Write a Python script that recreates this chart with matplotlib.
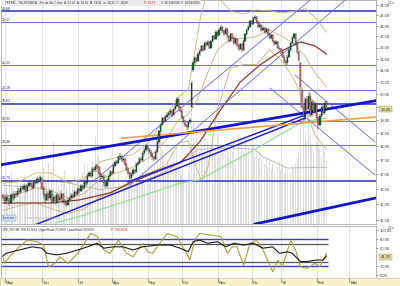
import numpy as np
import matplotlib
matplotlib.use("Agg")
import matplotlib.pyplot as plt
from matplotlib.ticker import NullLocator
from matplotlib.patches import Rectangle
from matplotlib.transforms import blended_transform_factory

plt.rcParams['font.family'] = ['Liberation Sans', 'DejaVu Sans']

# daily candles, TEF.MC  May 2005 - Feb 2006
opens = [16.30, 16.20, 16.10, 16.25, 16.15, 16.05, 16.30, 16.20, 16.35, 16.30,
         16.45, 16.40, 16.55, 16.50, 16.60, 16.45, 16.60, 16.70, 16.65, 16.55,
         16.75, 16.70, 16.85, 16.80, 16.85, 16.55, 16.30, 16.15, 16.35, 16.20,
         16.45, 16.10, 16.25, 16.05, 16.30, 16.15, 16.20, 16.35, 16.10, 16.05,
         15.98, 16.15, 16.20, 16.30, 16.25, 16.40, 16.35, 16.50, 16.45, 16.60,
         16.55, 16.75, 16.70, 16.95, 17.05, 16.95, 17.20, 17.15, 17.30, 17.25,
         17.05, 16.90, 16.95, 16.70, 16.60, 16.80, 16.95, 17.10, 17.05, 17.30,
         17.45, 17.40, 17.60, 17.65, 17.50, 17.55, 17.35, 17.20, 17.05, 16.88,
         17.00, 17.15, 17.10, 17.35, 17.40, 17.55, 17.50, 17.75, 17.85, 18.00,
         17.90, 17.80, 17.70, 17.60, 17.55, 17.80, 18.15, 18.55, 18.80, 19.05,
         18.95, 19.10, 19.20, 19.25, 19.35, 19.20, 19.40, 19.55, 19.80, 19.50,
         19.35, 19.10, 18.95, 18.80, 18.70, 18.90, 19.50, 21.00, 21.30, 21.55,
         21.40, 21.70, 21.85, 22.05, 21.90, 22.20, 22.10, 22.25, 22.00, 22.30,
         22.50, 22.40, 22.70, 22.55, 22.80, 22.95, 22.75, 22.60, 22.85, 22.50,
         22.30, 22.60, 22.45, 22.20, 22.40, 22.10, 21.95, 22.15, 21.90, 22.30,
         22.60, 22.80, 22.95, 23.20, 23.10, 23.35, 23.40, 23.15, 22.95, 23.05,
         22.80, 22.90, 22.70, 22.85, 22.60, 22.45, 22.55, 22.30, 22.15, 22.25,
         22.00, 21.95, 21.80, 21.60, 21.40, 21.30, 21.60, 21.90, 22.20, 22.45,
         22.60, 22.20, 21.80, 21.30, 20.20, 19.50, 19.10, 19.80, 19.40, 19.95,
         19.20, 19.70, 19.30, 19.60, 19.05, 18.80, 19.15, 19.50, 19.25, 19.65]
highs = [16.35, 16.28, 16.32, 16.30, 16.22, 16.38, 16.36, 16.42, 16.44, 16.52,
         16.53, 16.62, 16.64, 16.68, 16.66, 16.65, 16.78, 16.76, 16.70, 16.82,
         16.80, 16.92, 16.90, 16.98, 16.92, 16.60, 16.38, 16.42, 16.40, 16.50,
         16.48, 16.32, 16.30, 16.36, 16.34, 16.28, 16.42, 16.38, 16.16, 16.10,
         16.22, 16.28, 16.36, 16.35, 16.46, 16.45, 16.56, 16.55, 16.66, 16.64,
         16.82, 16.80, 17.00, 17.12, 17.10, 17.26, 17.25, 17.38, 17.35, 17.30,
         17.10, 17.02, 17.00, 16.75, 16.86, 17.02, 17.16, 17.15, 17.36, 17.52,
         17.50, 17.66, 17.74, 17.70, 17.62, 17.60, 17.40, 17.25, 17.10, 17.08,
         17.22, 17.20, 17.42, 17.48, 17.62, 17.60, 17.82, 17.92, 18.08, 18.05,
         17.95, 17.85, 17.75, 17.66, 17.86, 18.22, 18.62, 18.88, 19.12, 19.10,
         19.18, 19.28, 19.34, 19.42, 19.40, 19.48, 19.62, 19.88, 19.85, 19.55,
         19.40, 19.15, 19.00, 18.85, 18.96, 19.08, 20.55, 21.40, 21.62, 21.60,
         21.78, 21.92, 22.12, 22.10, 22.28, 22.26, 22.32, 22.30, 22.36, 22.58,
         22.56, 22.78, 22.75, 22.88, 23.05, 23.00, 22.80, 22.92, 22.90, 22.55,
         22.66, 22.65, 22.50, 22.46, 22.45, 22.15, 22.22, 22.20, 22.36, 22.66,
         22.88, 23.02, 23.28, 23.26, 23.42, 23.50, 23.45, 23.20, 23.12, 23.10,
         22.98, 22.95, 22.92, 22.90, 22.66, 22.62, 22.60, 22.36, 22.32, 22.30,
         22.08, 22.00, 21.85, 21.65, 21.46, 21.66, 21.96, 22.26, 22.52, 22.68,
         22.65, 22.25, 21.85, 21.35, 20.30, 19.60, 19.90, 19.95, 20.10, 20.05,
         19.82, 19.78, 19.72, 19.66, 19.12, 19.22, 19.60, 19.58, 19.75, 19.72]
lows = [16.10, 16.02, 16.05, 16.08, 15.95, 16.00, 16.12, 16.15, 16.22, 16.25,
        16.33, 16.35, 16.42, 16.44, 16.38, 16.40, 16.55, 16.58, 16.48, 16.50,
        16.62, 16.66, 16.72, 16.75, 16.48, 16.22, 16.05, 16.10, 16.12, 16.15,
        16.02, 16.04, 15.98, 16.00, 16.08, 16.10, 16.15, 16.02, 15.96, 15.90,
        15.94, 16.10, 16.15, 16.18, 16.20, 16.28, 16.30, 16.38, 16.40, 16.48,
        16.50, 16.62, 16.65, 16.90, 16.88, 16.90, 17.08, 17.10, 17.18, 16.98,
        16.82, 16.85, 16.62, 16.52, 16.55, 16.75, 16.90, 16.98, 17.00, 17.25,
        17.33, 17.35, 17.55, 17.42, 17.45, 17.28, 17.12, 16.98, 16.80, 16.84,
        16.95, 17.02, 17.05, 17.28, 17.35, 17.42, 17.45, 17.70, 17.80, 17.82,
        17.72, 17.62, 17.52, 17.48, 17.50, 17.75, 18.10, 18.50, 18.75, 18.88,
        18.90, 19.05, 19.12, 19.20, 19.12, 19.15, 19.35, 19.50, 19.42, 19.28,
        19.02, 18.88, 18.72, 18.62, 18.65, 18.85, 19.45, 20.95, 21.22, 21.32,
        21.35, 21.62, 21.80, 21.82, 21.85, 22.02, 22.05, 21.92, 21.95, 22.25,
        22.32, 22.35, 22.48, 22.50, 22.75, 22.68, 22.52, 22.55, 22.42, 22.22,
        22.25, 22.38, 22.12, 22.15, 22.02, 21.86, 21.90, 21.82, 21.85, 22.25,
        22.55, 22.75, 22.90, 23.02, 23.05, 23.28, 23.08, 22.88, 22.90, 22.72,
        22.75, 22.62, 22.65, 22.52, 22.38, 22.40, 22.22, 22.08, 22.10, 21.92,
        21.88, 21.72, 21.52, 21.32, 21.22, 21.25, 21.55, 21.85, 22.15, 22.40,
        22.12, 21.72, 21.38, 20.20, 19.40, 18.95, 19.00, 19.30, 19.35, 19.10,
        19.12, 19.20, 19.22, 18.95, 18.65, 18.75, 19.10, 19.18, 19.20, 19.32]
closes = [16.20, 16.10, 16.25, 16.15, 16.05, 16.30, 16.20, 16.35, 16.30, 16.45,
          16.40, 16.55, 16.50, 16.60, 16.45, 16.60, 16.70, 16.65, 16.55, 16.75,
          16.70, 16.85, 16.80, 16.90, 16.55, 16.30, 16.15, 16.35, 16.20, 16.45,
          16.10, 16.25, 16.05, 16.30, 16.15, 16.20, 16.35, 16.10, 16.05, 15.98,
          16.15, 16.20, 16.30, 16.25, 16.40, 16.35, 16.50, 16.45, 16.60, 16.55,
          16.75, 16.70, 16.95, 17.05, 16.95, 17.20, 17.15, 17.30, 17.25, 17.05,
          16.90, 16.95, 16.70, 16.60, 16.80, 16.95, 17.10, 17.05, 17.30, 17.45,
          17.40, 17.60, 17.65, 17.50, 17.55, 17.35, 17.20, 17.05, 16.88, 17.00,
          17.15, 17.10, 17.35, 17.40, 17.55, 17.50, 17.75, 17.85, 18.00, 17.90,
          17.80, 17.70, 17.60, 17.55, 17.80, 18.15, 18.55, 18.80, 19.05, 18.95,
          19.10, 19.20, 19.25, 19.35, 19.20, 19.40, 19.55, 19.80, 19.50, 19.35,
          19.10, 18.95, 18.80, 18.70, 18.90, 19.00, 20.45, 21.30, 21.55, 21.40,
          21.70, 21.85, 22.05, 21.90, 22.20, 22.10, 22.25, 22.00, 22.30, 22.50,
          22.40, 22.70, 22.55, 22.80, 22.95, 22.75, 22.60, 22.85, 22.50, 22.30,
          22.60, 22.45, 22.20, 22.40, 22.10, 21.95, 22.15, 21.90, 22.30, 22.60,
          22.80, 22.95, 23.20, 23.10, 23.35, 23.40, 23.15, 22.95, 23.05, 22.80,
          22.90, 22.70, 22.85, 22.60, 22.45, 22.55, 22.30, 22.15, 22.25, 22.00,
          21.95, 21.80, 21.60, 21.40, 21.30, 21.60, 21.90, 22.20, 22.45, 22.60,
          22.20, 21.80, 21.45, 20.30, 19.50, 19.10, 19.80, 19.40, 19.95, 19.20,
          19.70, 19.30, 19.60, 19.05, 18.80, 19.15, 19.50, 19.25, 19.65, 19.40]
# volume in millions of shares
volumes = [22, 30, 25, 18, 28, 35, 24, 20, 26, 31, 22, 27, 19, 33, 24, 28, 21, 30, 25, 23,
           27, 32, 24, 29, 45, 38, 30, 26, 41, 22, 34, 55, 70, 30, 26, 23, 31, 28, 36, 25,
           24, 29, 21, 27, 33, 22, 30, 26, 28, 35, 40, 32, 38, 30, 28, 42, 36, 58, 80, 45,
           38, 30, 27, 33, 25, 29, 36, 24, 31, 28, 22, 34, 30, 26, 29, 24, 32, 27, 35, 30,
           28, 25, 31, 27, 33, 29, 35, 26, 38, 30, 27, 33, 29, 40, 36, 48, 55, 62, 50, 44,
           38, 42, 35, 40, 33, 45, 38, 52, 40, 36, 33, 30, 38, 29, 35, 42, 78, 68, 55, 60,
           52, 48, 58, 50, 62, 45, 55, 48, 52, 60, 46, 50, 58, 44, 52, 49, 55, 47, 53, 45,
           50, 48, 56, 44, 52, 60, 47, 55, 49, 58, 46, 51, 57, 48, 53, 45, 50, 44, 48, 42,
           46, 40, 44, 38, 42, 36, 40, 35, 45, 38, 42, 36, 40, 34, 38, 36, 41, 35, 39, 37,
           40, 44, 48, 90, 85, 70, 62, 55, 75, 60, 52, 48, 65, 55, 58, 50, 45, 52, 48, 42]

# volume moving average
vma_day = [0, 12, 24, 40, 60, 80, 100, 120, 140, 155, 160, 175, 199]
vma_val = [26, 25, 29.5, 27.5, 23, 26, 35, 50, 51, 50, 45, 37.5, 38]

# moving averages (brown = 50 sessions, green = 200 sessions)
ma50_day = [0, 29, 47, 66, 78, 90, 109, 121, 133, 146, 158, 170, 183, 192, 199]
ma50_val = [16.04, 16.04, 16.14, 16.37, 16.70, 16.98, 17.40, 18.16, 19.30, 20.51,
            21.23, 21.80, 22.25, 22.07, 21.71]
ma200_day = [32, 46, 78, 109, 121, 152, 184, 199]
ma200_val = [15.40, 15.59, 16.14, 16.70, 16.81, 17.79, 18.91, 19.06]

# bollinger bands
bb_day = [0, 10, 20, 30, 40, 50, 60, 70, 80, 90, 100, 108, 114, 118, 122, 126,
          132, 140, 148, 156, 164, 172, 180, 186, 192, 199]
bb_up = [16.70, 16.75, 17.05, 17.05, 16.70, 16.85, 17.45, 17.60, 17.70, 18.15, 19.10,
         19.90, 20.20, 21.80, 23.60, 24.60, 24.40, 23.70, 23.55, 23.75, 23.70, 23.60,
         23.70, 23.80, 23.40, 22.70]
bb_mid = [16.25, 16.35, 16.55, 16.45, 16.20, 16.35, 16.85, 17.05, 17.25, 17.60, 18.20,
          19.00, 19.20, 19.60, 20.20, 20.90, 21.90, 22.40, 22.40, 22.50, 22.80, 22.50,
          22.10, 21.60, 20.90, 20.30]
bb_low = [15.80, 15.95, 16.05, 15.85, 15.70, 15.85, 16.25, 16.50, 16.80, 17.05, 17.30,
          18.10, 18.20, 17.40, 16.80, 17.20, 19.40, 21.10, 21.25, 21.25, 21.90, 21.40,
          20.50, 19.40, 18.40, 17.90]

# support / resistance levels
levels = [23.68, 23.17, 21.23, 20.18, 19.63, 18.93, 18.06, 16.79]
level_labels = ["23,68", "23,17", "21,23", "20,18", "19,63", "18,93", "18,06", "16,79"]
level_heavy = [True, False, False, False, True, False, False, True]

# trend lines: (day, price) end points
thick_lines = [((-1.8, 17.33), (228.9, 19.74)), ((155.0, 15.37), (228.9, 16.20))]
medium_lines = [((16.6, 15.28), (185.8, 19.06)), ((76.9, 16.74), (185.8, 19.18))]
thin_lines = [((56.6, 16.81), (189.0, 24.23)), ((78.0, 16.63), (210.5, 24.23)),
              ((164.3, 20.26), (228.9, 16.98)), ((179.7, 20.80), (228.9, 18.16))]
orange_line = ((73.2, 18.30), (228.9, 19.10))

# RSI
rsi_fast_day = [0, 1, 4, 10, 15, 21, 25, 28, 32, 35, 40, 46, 54, 58, 62, 66, 71, 76, 80,
                86, 89, 92, 101, 107, 113, 115, 118, 121, 127, 134, 138, 141, 144, 148,
                152, 156, 160, 166, 169, 172, 177, 180, 183, 187, 192, 195, 198, 199]
rsi_fast = [41, 26, 41, 63, 78, 74.5, 67, 18.5, 26, 41, 26, 48.5, 93, 86, 56, 48.5, 78,
            48.5, 41, 71, 52, 48.5, 93, 86, 48.5, 33.5, 78, 93, 89.5, 86, 48.5, 63, 63,
            22, 71, 78, 56, 7, 33.5, 18.5, 78, 56, 18.5, 15, 26, 18.5, 41, 48.5]
rsi_slow_day = [0, 2, 10, 18, 24, 27, 33, 39, 46, 52, 58, 62, 68, 74, 80, 86, 95, 103,
                109, 114, 117, 121, 126, 132, 137, 142, 148, 154, 160, 166, 170, 175,
                178, 183, 187, 193, 197, 199]
rsi_slow = [42.5, 48.5, 56, 63, 60, 48.5, 45, 48.5, 56, 63, 71, 60, 63, 63, 56, 63, 67,
            67, 60, 52, 74.5, 78, 71, 74.5, 63, 71, 67, 71, 60, 63, 48.5, 52, 48.5, 30,
            30, 33.5, 33.5, 42.5]

month_day = [1, 24, 46, 67, 89, 110, 132, 153, 171, 193, 213]
month_labels = ["May", "Jun", "Jul", "Ago", "Sep", "Oct", "Nov", "Dic", "'06", "Feb", "Mar"]

price_ticks = [15.5, 16, 16.5, 17, 17.5, 18, 18.5, 19, 19.5, 20, 20.5, 21, 21.5, 22,
               22.5, 23, 23.5, 24]
rsi_ticks = [0, 20, 60, 80, 100]

W, H = 400, 286


def rect(x0, y0, x1, y1):
    return [x0 / W, 1 - y1 / H, (x1 - x0) / W, (y1 - y0) / H]


fig = plt.figure(figsize=(4, 2.86), dpi=100)
XLIM = (-1.2, 229.5)
days = np.arange(len(closes))
o = np.array(opens)
c = np.array(closes)
up = c >= o

# volume layer
axv = fig.add_axes(rect(1, 0, 376, 224), zorder=0)
axv.set_xlim(*XLIM)
axv.set_ylim(0, 150)
axv.bar(days, volumes, width=0.55, color="#dedede", zorder=1)
axv.plot(vma_day, vma_val, color="#b9b2a0", lw=0.6, zorder=2)
for m in month_day:
    axv.axvline(m, color="#dcdcdc", lw=0.5, zorder=0)
axv.set_xticks([])
axv.set_yticks([])
for s in axv.spines.values():
    s.set_visible(False)

# price layer
ax = fig.add_axes(rect(1, 0, 376, 224), zorder=1)
ax.patch.set_alpha(0)
ax.set_yscale("log")
ax.set_xlim(*XLIM)
ax.set_ylim(15.37, 24.23)

for lev, heavy in zip(levels, level_heavy):
    ax.axhline(lev, color="#4040cc" if heavy else "#7474dc",
               lw=1.2 if heavy else 0.8, zorder=2)
for lev, lab in zip(levels, level_labels):
    ax.text(-0.5, lev * 1.0015, lab, fontsize=2.6, color="#303070",
            ha="left", va="bottom", zorder=9)

ax.plot(bb_day, bb_up, color="#c9b27c", lw=0.6, zorder=3)
ax.plot(bb_day, bb_mid, color="#c9b27c", lw=0.6, zorder=3)
ax.plot(bb_day, bb_low, color="#c9b27c", lw=0.6, zorder=3)
ax.plot(ma50_day, ma50_val, color="#8a3b2c", lw=0.9, zorder=3)
ax.plot(ma200_day, ma200_val, color="#8ee08e", lw=0.8, zorder=3)

for (x0, y0), (x1, y1) in thin_lines:
    ax.plot([x0, x1], [y0, y1], color="#6c6ce0", lw=0.6, zorder=4)
for (x0, y0), (x1, y1) in medium_lines:
    ax.plot([x0, x1], [y0, y1], color="#2626cc", lw=1.1, zorder=4)
for (x0, y0), (x1, y1) in thick_lines:
    ax.plot([x0, x1], [y0, y1], color="#1414c8", lw=2.0, zorder=4)
ax.plot([orange_line[0][0], orange_line[1][0]], [orange_line[0][1], orange_line[1][1]],
        color="#f0a048", lw=1.2, zorder=4)

# candles
ax.vlines(days, lows, highs, color="#1a1a1a", lw=0.35, zorder=5)
ax.bar(days[up], (c - o)[up], bottom=o[up], width=0.8, color="#1d6b3b",
       edgecolor="#101010", lw=0.2, zorder=6)
ax.bar(days[~up], (o - c)[~up], bottom=c[~up], width=0.8, color="#d98282",
       edgecolor="#101010", lw=0.2, zorder=6)

ax.yaxis.tick_right()
ax.yaxis.set_minor_locator(NullLocator())
ax.set_yticks(price_ticks)
# the 19,50 label sits under the last-price box
ax.set_yticklabels(["" if t == 19.5 else f"{t:.2f}".replace(".", ",") for t in price_ticks])
ax.tick_params(axis="y", labelsize=3, colors="#404040", length=1.5, width=0.4, pad=1)
ax.set_xticks([])
for s in ax.spines.values():
    s.set_color("#9a9a9a")
    s.set_linewidth(0.5)

trans = blended_transform_factory(ax.transAxes, ax.transData)
ax.text(1.012, closes[-1], f"{closes[-1]:.2f}".replace(".", ","), transform=trans,
        fontsize=3, color="#303030", va="center", ha="left", zorder=10, clip_on=False,
        bbox=dict(boxstyle="square,pad=0.25", fc="#dcdc9c", ec="#9a9a5a", lw=0.3))

# header
ax.add_patch(Rectangle((0, 1 - 5.5 / 224), 200 / 375, 5.5 / 224, transform=ax.transAxes,
                       fc="#ececec", ec="none", zorder=8))
ax.text(4 / 375, 1 - 2.8 / 224,
        "TEF.MC - TELEFONICA - Fin de día 7 días  A: 17,20  A: 18,32  M: 18,81  m: 18,22  C: 18,88",
        transform=ax.transAxes, fontsize=2.2, color="#333333", va="center", zorder=9)
ax.text(143 / 375, 1 - 2.8 / 224, "P: 23,71", transform=ax.transAxes, fontsize=2.2,
        color="#d02020", va="center", zorder=9)
ax.text(160 / 375, 1 - 2.8 / 224, "V: 36.618.084  F: 10/02/2006",
        transform=ax.transAxes, fontsize=2.2, color="#333333", va="center", zorder=9)

# watermark
ax.text(2 / 375, 6 / 224, "Inversor", transform=ax.transAxes, fontsize=2.4,
        color="#2040a0", va="center", zorder=9,
        bbox=dict(boxstyle="square,pad=0.3", fc="#d8e4f4", ec="#7090c0", lw=0.3))
ax.text(24 / 375, 6 / 224, "www.visualchart.com", transform=ax.transAxes,
        fontsize=2.6, color="#b4b4b4", va="center", zorder=9)
fig.text(386 / W, 1 - 0.5 / H, "- □ x", fontsize=3, color="#555555", va="top")

# RSI panel
ax2 = fig.add_axes(rect(1, 226, 376, 278))
ax2.set_xlim(*XLIM)
ax2.set_ylim(-6.7, 109.6)
for m in month_day:
    ax2.axvline(m, color="#dcdcdc", lw=0.5, zorder=0)
ax2.hlines([80, 20], -1.2, 200, color="#3c3cc8", lw=1.0, zorder=2)
ax2.hlines([70, 30], -1.2, 200, color="#555555", lw=0.9, zorder=2)
ax2.plot(rsi_fast_day, rsi_fast, color="#a8a040", lw=0.8, zorder=3)
ax2.plot(rsi_slow_day, rsi_slow, color="#1c1c1c", lw=0.8, zorder=4)
ax2.yaxis.tick_right()
ax2.set_yticks(rsi_ticks)
ax2.set_yticklabels([f"{t:.2f}".replace(".", ",") for t in rsi_ticks])
ax2.tick_params(axis="y", labelsize=3, colors="#404040", length=1.5, width=0.4, pad=1)
ax2.set_xticks([])
for s in ax2.spines.values():
    s.set_color("#9a9a9a")
    s.set_linewidth(0.5)
trans2 = blended_transform_factory(ax2.transAxes, ax2.transData)
ax2.text(1.012, rsi_slow[-1] - 1.3, "41,20", transform=trans2, fontsize=3,
         color="#303030", va="center", ha="left", clip_on=False, zorder=10,
         bbox=dict(boxstyle="square,pad=0.25", fc="#dcdc9c", ec="#9a9a5a", lw=0.3))
ax2.text(2 / 375, 0.93, "RSI_TEF.MC RSI 07,8/14  UpperBand 70,0000  LowerBand 30,0000",
         transform=ax2.transAxes, fontsize=2.2, color="#333333", va="center")
ax2.text(110 / 375, 0.93, "P: 500,0074", transform=ax2.transAxes, fontsize=2.2,
         color="#d02020", va="center")
fig.text(386 / W, 1 - 226.3 / H, "- □ x", fontsize=3, color="#555555", va="top")

# date strip
ax3 = fig.add_axes(rect(0, 278, 400, 286))
ax3.set_facecolor("#f7f2cc")
ax3.set_xlim(-1.85, 244.3)
ax3.set_ylim(0, 1)
for m, lab in zip(month_day, month_labels):
    ax3.plot([m, m], [0.55, 1.0], color="#555555", lw=0.4)
    ax3.text(m + 0.8, 0.4, lab, fontsize=3, color="#333333", va="center", ha="left")
ax3.set_xticks([])
ax3.set_yticks([])
for s in ax3.spines.values():
    s.set_color("#c8c090")
    s.set_linewidth(0.4)

fig.savefig("out.png", dpi=100)
